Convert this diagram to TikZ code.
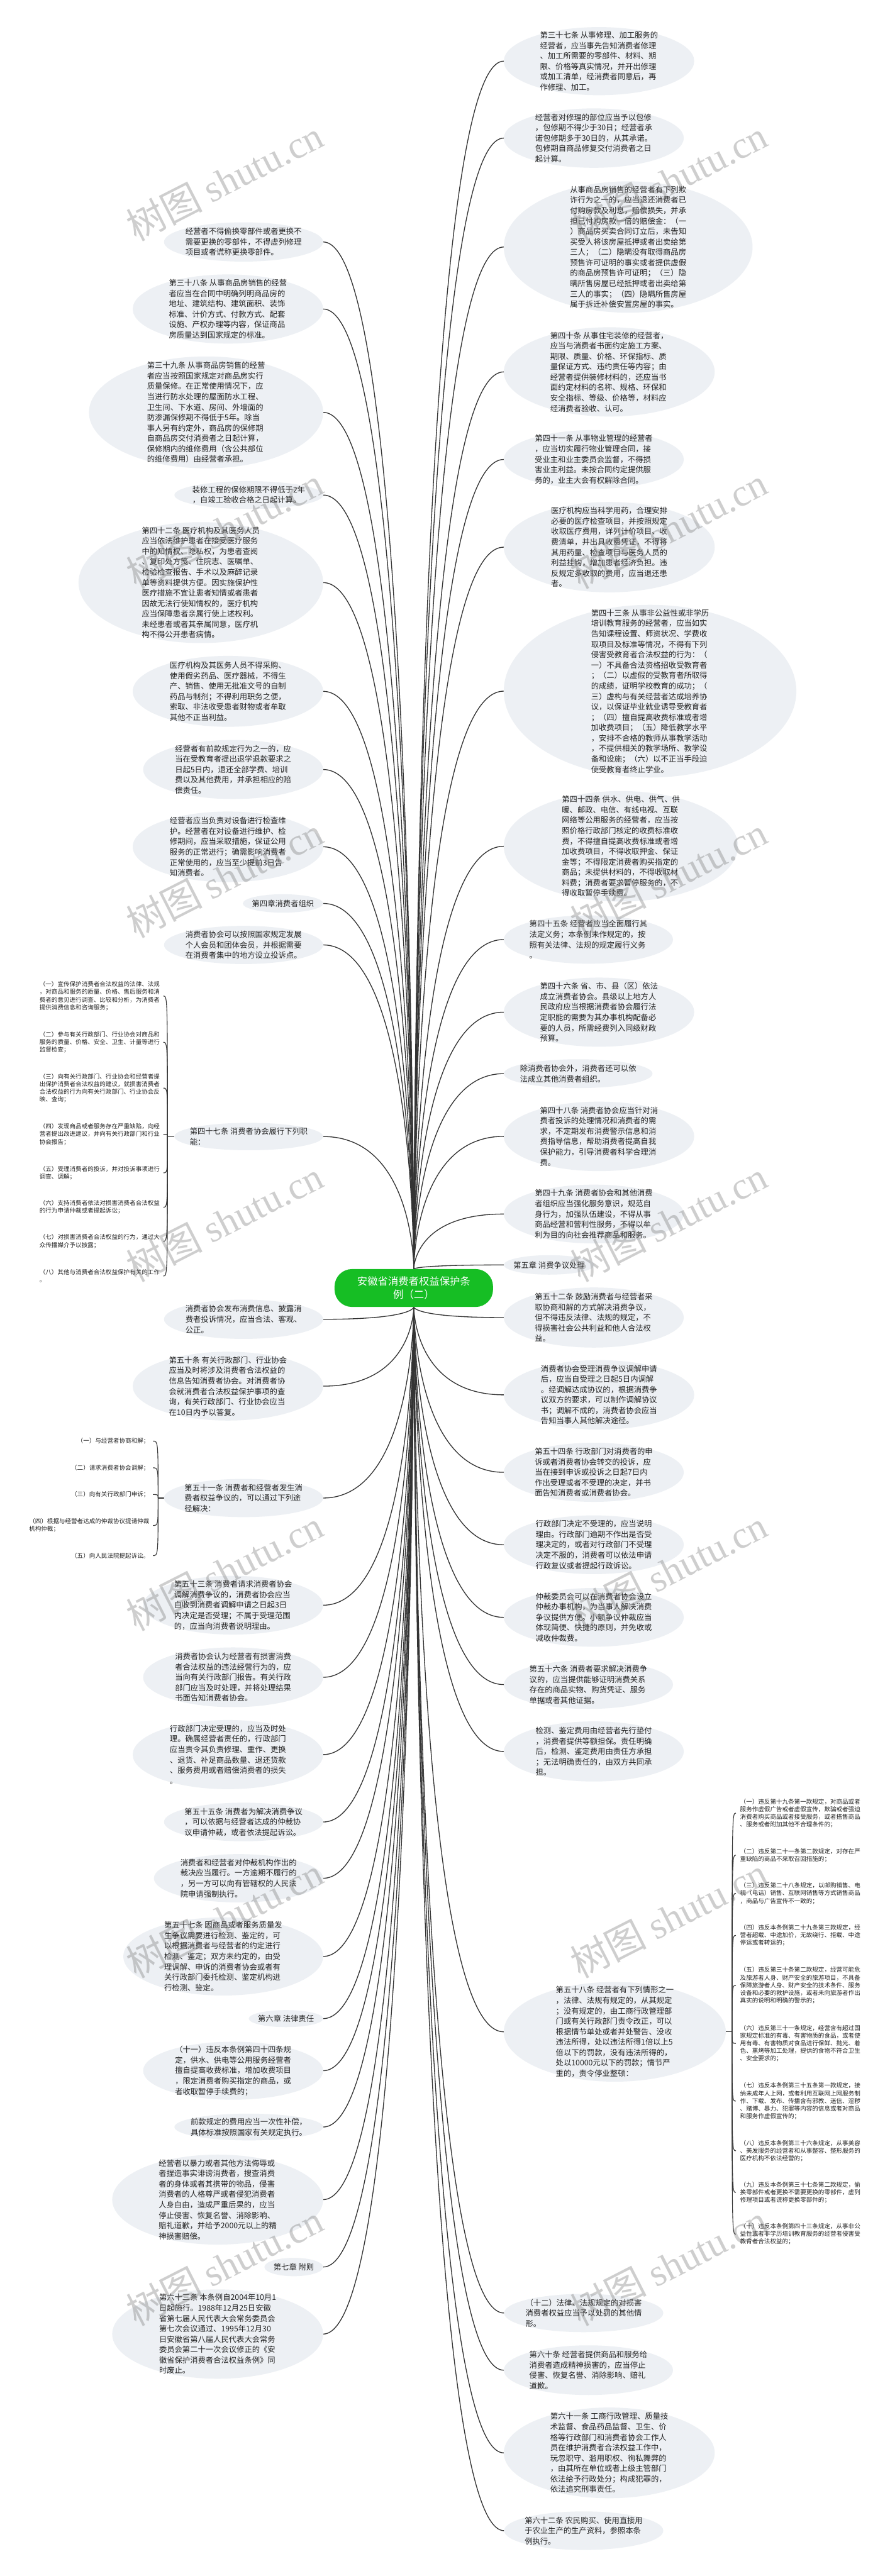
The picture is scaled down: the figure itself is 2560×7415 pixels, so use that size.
\documentclass[tikz,border=0pt]{standalone}
\usepackage{fontspec}
\setmainfont{Noto Sans CJK SC}
\newfontfamily\wmlatin{Liberation Serif}
\usetikzlibrary{shapes.geometric}
\pgfdeclarelayer{back}
\pgfdeclarelayer{edges}
\pgfdeclarelayer{top}
\pgfsetlayers{back,edges,main,top}
\definecolor{nodefill}{RGB}{237,240,244}
\definecolor{linec}{RGB}{51,51,51}
\definecolor{txtc}{RGB}{34,34,34}
\definecolor{rootg}{RGB}{22,190,36}
\tikzset{
  ell/.style={ellipse, fill=nodefill, draw=none, inner sep=0pt},
  txt/.style={align=left, text=txtc, inner sep=0pt, font=\fontsize{22.3}{30}\selectfont},
  small/.style={align=left, text=txtc, inner ysep=0pt, font=\fontsize{17.3}{22}\selectfont},
  conn/.style={draw=linec, line width=2.4pt},
  brace/.style={draw=linec, line width=2pt},
  wm/.style={text=black!55, opacity=0.35, font=\fontsize{110}{110}\selectfont, inner sep=0pt, rotate=27}
}
\newcommand\mmnode[6]{%
  \node[ell, minimum width=#4pt, minimum height=#5pt] (#1) at (#2,#3) {};
  \node[txt] (#1t) at (#1.center) {#6};
}
\newcommand\mmconn[3]{\draw[conn] (root.#1) .. controls (root.#1) and (root.#1 |- #2.#3) .. (#2.#3);}
\begin{document}
\begin{tikzpicture}[x=1pt,y=-1pt]
\useasboundingbox (0,0) rectangle (2560,7415);
\begin{pgfonlayer}{back}
\fill[white] (0,0) rectangle (2560,7415);
\end{pgfonlayer}

% root
\node[rounded corners=50pt, fill=rootg, text=white, minimum width=456pt, minimum height=109pt, align=center, inner sep=0pt, font=\fontsize{29.6}{38}\selectfont] (root) at (1191,3707.5) {安徽省消费者权益保护条\\例（二）};

% right column
\mmnode{R1}{1724}{176}{548}{196}{第三十七条 从事修理、加工服务的\\经营者，应当事先告知消费者修理\\、加工所需要的零部件、材料、期\\限、价格等真实情况，并开出修理\\或加工清单，经消费者同意后，再\\作修理、加工。}
\mmnode{R2}{1709}{397.5}{518}{171}{经营者对修理的部位应当予以包修\\，包修期不得少于30日；经营者承\\诺包修期多于30日的，从其承诺。\\包修期自商品修复交付消费者之日\\起计算。}
\mmnode{R3}{1808}{711}{716}{378}{从事商品房销售的经营者有下列欺\\诈行为之一的，应当退还消费者已\\付购房款及利息，赔偿损失，并承\\担已付购房款一倍的赔偿金：（一\\）商品房买卖合同订立后，未告知\\买受人将该房屋抵押或者出卖给第\\三人；（二）隐瞒没有取得商品房\\预售许可证明的事实或者提供虚假\\的商品房预售许可证明；（三）隐\\瞒所售房屋已经抵押或者出卖给第\\三人的事实；（四）隐瞒所售房屋\\属于拆迁补偿安置房屋的事实。}
\mmnode{R4}{1753.5}{1070.5}{607}{257}{第四十条 从事住宅装修的经营者，\\应当与消费者书面约定施工方案、\\期限、质量、价格、环保指标、质\\量保证方式、违约责任等内容；由\\经营者提供装修材料的，还应当书\\面约定材料的名称、规格、环保和\\安全指标、等级、价格等，材料应\\经消费者验收、认可。}
\mmnode{R5}{1709}{1322.5}{518}{169}{第四十一条 从事物业管理的经营者\\，应当切实履行物业管理合同，接\\受业主和业主委员会监督，不得损\\害业主利益。未按合同约定提供服\\务的，业主大会有权解除合同。}
\mmnode{R6}{1753.5}{1575}{607}{260}{医疗机构应当科学用药，合理安排\\必要的医疗检查项目，并按照规定\\收取医疗费用，详列计价项目、收\\费清单，并出具收费凭证，不得将\\其用药量、检查项目与医务人员的\\利益挂钩，增加患者经济负担。违\\反规定多收取的费用，应当退还患\\者。}
\mmnode{R7}{1871}{1989.5}{842}{497}{第四十三条 从事非公益性或非学历\\培训教育服务的经营者，应当如实\\告知课程设置、师资状况、学费收\\取项目及标准等情况，不得有下列\\侵害受教育者合法权益的行为：（\\一）不具备合法资格招收受教育者\\；（二）以虚假的受教育者所取得\\的成绩，证明学校教育的成功；（\\三）虚构与有关经营者达成培养协\\议，以保证毕业就业诱导受教育者\\；（四）擅自提高收费标准或者增\\加收费项目；（五）降低教学水平\\，安排不合格的教师从事教学活动\\，不提供相关的教学场所、教学设\\备和设施；（六）以不正当手段迫\\使受教育者终止学业。}
\mmnode{R8}{1787}{2436}{674}{318}{第四十四条 供水、供电、供气、供\\暖、邮政、电信、有线电视、互联\\网络等公用服务的经营者，应当按\\照价格行政部门核定的收费标准收\\费，不得擅自提高收费标准或者增\\加收费项目，不得收取押金、保证\\金等；不得限定消费者购买指定的\\商品；未提供材料的，不得收取材\\料费；消费者要求暂停服务的，不\\得收取暂停手续费。}
\mmnode{R9}{1693.5}{2704.5}{487}{139}{第四十五条 经营者应当全面履行其\\法定义务；本条例未作规定的，按\\照有关法律、法规的规定履行义务\\。}
\mmnode{R10}{1724}{2913.5}{548}{199}{第四十六条 省、市、县（区）依法\\成立消费者协会。县级以上地方人\\民政府应当根据消费者协会履行法\\定职能的需要为其办事机构配备必\\要的人员，所需经费列入同级财政\\预算。}
\mmnode{R11}{1664}{3090.5}{428}{83}{除消费者协会外，消费者还可以依\\法成立其他消费者组织。}
\mmnode{R12}{1724}{3271}{548}{200}{第四十八条 消费者协会应当针对消\\费者投诉的处理情况和消费者的需\\求，不定期发布消费警示信息和消\\费指导信息，帮助消费者提高自我\\保护能力，引导消费者科学合理消\\费。}
\mmnode{R13}{1709}{3494.5}{518}{169}{第四十九条 消费者协会和其他消费\\者组织应当强化服务意识，规范自\\身行为，加强队伍建设，不得从事\\商品经营和营利性服务，不得以牟\\利为目的向社会推荐商品和服务。}
\mmnode{R14}{1580.5}{3641}{261}{56}{第五章 消费争议处理}
\mmnode{R15}{1709}{3792.5}{518}{173}{第五十二条 鼓励消费者与经营者采\\取协商和解的方式解决消费争议，\\但不得违反法律、法规的规定，不\\得损害社会公共利益和他人合法权\\益。}
\mmnode{R16}{1724}{4015}{548}{200}{消费者协会受理消费争议调解申请\\后，应当自受理之日起5日内调解\\。经调解达成协议的，根据消费争\\议双方的要求，可以制作调解协议\\书；调解不成的，消费者协会应当\\告知当事人其他解决途径。}
\mmnode{R17}{1709}{4238}{518}{170}{第五十四条 行政部门对消费者的申\\诉或者消费者协会转交的投诉，应\\当在接到申诉或投诉之日起7日内\\作出受理或者不受理的决定，并书\\面告知消费者或消费者协会。}
\mmnode{R18}{1709}{4446.5}{518}{169}{行政部门决定不受理的，应当说明\\理由。行政部门逾期不作出是否受\\理决定的，或者对行政部门不受理\\决定不服的，消费者可以依法申请\\行政复议或者提起行政诉讼。}
\mmnode{R19}{1709}{4655.5}{518}{169}{仲裁委员会可以在消费者协会设立\\仲裁办事机构，为当事人解决消费\\争议提供方便。小额争议仲裁应当\\体现简便、快捷的原则，并免收或\\减收仲裁费。}
\mmnode{R20}{1693.5}{4849}{487}{140}{第五十六条 消费者要求解决消费争\\议的，应当提供能够证明消费关系\\存在的商品实物、购货凭证、服务\\单据或者其他证据。}
\mmnode{R21}{1709}{5041.5}{518}{173}{检测、鉴定费用由经营者先行垫付\\，消费者提供等额担保。责任明确\\后，检测、鉴定费用由责任方承担\\；无法明确责任的，由双方共同承\\担。}
\mmnode{R22}{1769.5}{5848.5}{639}{287}{第五十八条 经营者有下列情形之一\\，法律、法规有规定的，从其规定\\；没有规定的，由工商行政管理部\\门或有关行政部门责令改正，可以\\根据情节单处或者并处警告、没收\\违法所得，处以违法所得1倍以上5\\倍以下的罚款，没有违法所得的，\\处以10000元以下的罚款；情节严\\重的，责令停业整顿：}
\mmnode{R23}{1680}{6658}{458}{110}{（十二）法律、法规规定的对损害\\消费者权益应当予以处罚的其他情\\形。}
\mmnode{R24}{1693.5}{6822.5}{487}{143}{第六十条 经营者提供商品和服务给\\消费者造成精神损害的，应当停止\\侵害、恢复名誉、消除影响、赔礼\\道歉。}
\mmnode{R25}{1753.5}{7060.5}{607}{261}{第六十一条 工商行政管理、质量技\\术监督、食品药品监督、卫生、价\\格等行政部门和消费者协会工作人\\员在维护消费者合法权益工作中，\\玩忽职守、滥用职权、徇私舞弊的\\，由其所在单位或者上级主管部门\\依法给予行政处分；构成犯罪的，\\依法追究刑事责任。}
\mmnode{R26}{1680}{7284.5}{458}{111}{第六十二条 农民购买、使用直接用\\于农业生产的生产资料，参照本条\\例执行。}

% left column
\mmnode{L1}{701}{696.5}{458}{113}{经营者不得偷换零部件或者更换不\\需要更换的零部件，不得虚列修理\\项目或者谎称更换零部件。}
\mmnode{L2}{656}{889.5}{548}{199}{第三十八条 从事商品房销售的经营\\者应当在合同中明确列明商品房的\\地址、建筑结构、建筑面积、装饰\\标准、计价方式、付款方式、配套\\设施、产权办理等内容，保证商品\\房质量达到国家规定的标准。}
\mmnode{L3}{593}{1187}{674}{322}{第三十九条 从事商品房销售的经营\\者应当按照国家规定对商品房实行\\质量保修。在正常使用情况下，应\\当进行防水处理的屋面防水工程、\\卫生间、下水道、房间、外墙面的\\防渗漏保修期不得低于5年。除当\\事人另有约定外，商品房的保修期\\自商品房交付消费者之日起计算，\\保修期内的维修费用（含公共部位\\的维修费用）由经营者承担。}
\mmnode{L4}{716}{1425}{428}{80}{装修工程的保修期限不得低于2年\\，自竣工验收合格之日起计算。}
\mmnode{L5}{578}{1677}{704}{348}{第四十二条 医疗机构及其医务人员\\应当依法维护患者在接受医疗服务\\中的知情权、隐私权，为患者查阅\\、复印处方笺、住院志、医嘱单、\\检验检查报告、手术以及麻醉记录\\单等资料提供方便。因实施保护性\\医疗措施不宜让患者知情或者患者\\因故无法行使知情权的，医疗机构\\应当保障患者亲属行使上述权利。\\未经患者或者其亲属同意，医疗机\\构不得公开患者病情。}
\mmnode{L6}{656}{1990}{548}{204}{医疗机构及其医务人员不得采购、\\使用假劣药品、医疗器械，不得生\\产、销售、使用无批准文号的自制\\药品与制剂；不得利用职务之便，\\索取、非法收受患者财物或者牟取\\其他不正当利益。}
\mmnode{L7}{671}{2215}{518}{170}{经营者有前款规定行为之一的，应\\当在受教育者提出退学退款要求之\\日起5日内，退还全部学费、培训\\费以及其他费用，并承担相应的赔\\偿责任。}
\mmnode{L8}{656}{2437.5}{548}{203}{经营者应当负责对设备进行检查维\\护。经营者在对设备进行维护、检\\修期间，应当采取措施，保证公用\\服务的正常进行；确需影响消费者\\正常使用的，应当至少提前3日告\\知消费者。}
\mmnode{L9}{814.5}{2600.5}{231}{53}{第四章消费者组织}
\mmnode{L10}{701}{2720}{458}{110}{消费者协会可以按照国家规定发展\\个人会员和团体会员，并根据需要\\在消费者集中的地方设立投诉点。}
\mmnode{L11}{716}{3271.5}{428}{79}{第四十七条 消费者协会履行下列职\\能：}
\mmnode{L12}{701}{3797.5}{458}{113}{消费者协会发布消费信息、披露消\\费者投诉情况，应当合法、客观、\\公正。}
\mmnode{L13}{656}{3990}{548}{198}{第五十条 有关行政部门、行业协会\\应当及时将涉及消费者合法权益的\\信息告知消费者协会。对消费者协\\会就消费者合法权益保护事项的查\\询，有关行政部门、行业协会应当\\在10日内予以答复。}
\mmnode{L14}{701}{4312}{458}{110}{第五十一条 消费者和经营者发生消\\费者权益争议的，可以通过下列途\\径解决：}
\mmnode{L15}{671}{4620.5}{518}{169}{第五十三条 消费者请求消费者协会\\调解消费争议的，消费者协会应当\\自收到消费者调解申请之日起3日\\内决定是否受理；不属于受理范围\\的，应当向消费者说明理由。}
\mmnode{L16}{671}{4828}{518}{172}{消费者协会认为经营者有损害消费\\者合法权益的违法经营行为的，应\\当向有关行政部门报告。有关行政\\部门应当及时处理，并将处理结果\\书面告知消费者协会。}
\mmnode{L17}{656}{5050.5}{548}{199}{行政部门决定受理的，应当及时处\\理。确属经营者责任的，行政部门\\应当责令其负责修理、重作、更换\\、退货、补足商品数量、退还货款\\、服务费用或者赔偿消费者的损失\\。}
\mmnode{L18}{701}{5244.5}{458}{111}{第五十五条 消费者为解决消费争议\\，可以依据与经营者达成的仲裁协\\议申请仲裁，或者依法提起诉讼。}
\mmnode{L19}{686.5}{5406.5}{487}{139}{消费者和经营者对仲裁机构作出的\\裁决应当履行。一方逾期不履行的\\，另一方可以向有管辖权的人民法\\院申请强制执行。}
\mmnode{L20}{642.5}{5631.5}{575}{225}{第五十七条 因商品或者服务质量发\\生争议需要进行检测、鉴定的，可\\以根据消费者与经营者的约定进行\\检测、鉴定；双方未约定的，由受\\理调解、申诉的消费者协会或者有\\关行政部门委托检测、鉴定机构进\\行检测、鉴定。}
\mmnode{L21}{823}{5810.5}{214}{49}{第六章 法律责任}
\mmnode{L22}{671}{5960.5}{518}{167}{（十一）违反本条例第四十四条规\\定，供水、供电等公用服务经营者\\擅自提高收费标准，增加收费项目\\，限定消费者购买指定的商品，或\\者收取暂停手续费的；}
\mmnode{L23}{716}{6122.5}{428}{77}{前款规定的费用应当一次性补偿，\\具体标准按照国家有关规定执行。}
\mmnode{L24}{626.5}{6331.5}{607}{259}{经营者以暴力或者其他方法侮辱或\\者捏造事实诽谤消费者，搜查消费\\者的身体或者其携带的物品，侵害\\消费者的人格尊严或者侵犯消费者\\人身自由，造成严重后果的，应当\\停止侵害、恢复名誉、消除影响、\\赔礼道歉，并给予2000元以上的精\\神损害赔偿。}
\mmnode{L25}{845.5}{6525.5}{169}{53}{第七章 附则}
\mmnode{L26}{626.5}{6718.5}{607}{257}{第六十三条 本条例自2004年10月1\\日起施行。1988年12月25日安徽\\省第七届人民代表大会常务委员会\\第七次会议通过、1995年12月30\\日安徽省第八届人民代表大会常务\\委员会第二十一次会议修正的《安\\徽省保护消费者合法权益条例》同\\时废止。}

% children of 第四十七条
\node[small, anchor=east, inner xsep=10pt] (a1) at (470,2867) {（一）宣传保护消费者合法权益的法律、法规\\，对商品和服务的质量、价格、售后服务和消\\费者的意见进行调查、比较和分析，为消费者\\提供消费信息和咨询服务；};
\node[small, anchor=east, inner xsep=10pt] (a2) at (470,3000) {（二）参与有关行政部门、行业协会对商品和\\服务的质量、价格、安全、卫生、计量等进行\\监督检查；};
\node[small, anchor=east, inner xsep=10pt] (a3) at (470,3132) {（三）向有关行政部门、行业协会和经营者提\\出保护消费者合法权益的建议，就损害消费者\\合法权益的行为向有关行政部门、行业协会反\\映、查询；};
\node[small, anchor=east, inner xsep=10pt] (a4) at (470,3265) {（四）发现商品或者服务存在严重缺陷，向经\\营者提出改进建议，并向有关行政部门和行业\\协会报告；};
\node[small, anchor=east, inner xsep=10pt] (a5) at (470,3376) {（五）受理消费者的投诉，并对投诉事项进行\\调查、调解；};
\node[small, anchor=east, inner xsep=10pt] (a6) at (470,3475) {（六）支持消费者依法对损害消费者合法权益\\的行为申请仲裁或者提起诉讼；};
\node[small, anchor=east, inner xsep=10pt] (a7) at (470,3573) {（七）对损害消费者合法权益的行为，通过大\\众传播媒介予以披露；};
\node[small, anchor=east, inner xsep=10pt] (a8) at (470,3673) {（八）其他与消费者合法权益保护有关的工作\\。};

% children of 第五十一条
\node[small, anchor=east, inner xsep=10pt] (b1) at (440,4148) {（一）与经营者协商和解；};
\node[small, anchor=east, inner xsep=10pt] (b2) at (440,4225) {（二）请求消费者协会调解；};
\node[small, anchor=east, inner xsep=10pt] (b3) at (440,4302) {（三）向有关行政部门申诉；};
\node[small, anchor=east, inner xsep=10pt] (b4) at (440,4391) {（四）根据与经营者达成的仲裁协议提请仲裁\\机构仲裁；};
\node[small, anchor=east, inner xsep=10pt] (b5) at (440,4478) {（五）向人民法院提起诉讼。};

% children of 第五十八条
\node[small, anchor=west, inner xsep=12pt] (c1) at (2118,5219) {（一）违反第十九条第一款规定，对商品或者\\服务作虚假广告或者虚假宣传，欺骗或者强迫\\消费者购买商品或者接受服务，或者搭售商品\\、服务或者附加其他不合理条件的；};
\node[small, anchor=west, inner xsep=12pt] (c2) at (2118,5340) {（二）违反第二十一条第二款规定，对存在严\\重缺陷的商品不采取召回措施的；};
\node[small, anchor=west, inner xsep=12pt] (c3) at (2118,5450) {（三）违反第二十八条规定，以邮购销售、电\\视（电话）销售、互联网销售等方式销售商品\\，商品与广告宣传不一致的；};
\node[small, anchor=west, inner xsep=12pt] (c4) at (2118,5571) {（四）违反本条例第二十九条第三款规定，经\\营者超载、中途加价，无故绕行、拒载、中途\\停运或者转运的；};
\node[small, anchor=west, inner xsep=12pt] (c5) at (2118,5715) {（五）违反第三十条第二款规定，经营可能危\\及旅游者人身、财产安全的旅游项目，不具备\\保障旅游者人身、财产安全的技术条件、服务\\设备和必要的救护设施，或者未向旅游者作出\\真实的说明和明确的警示的；};
\node[small, anchor=west, inner xsep=12pt] (c6) at (2118,5882) {（六）违反第三十一条规定，经营含有超过国\\家规定标准的有毒、有害物质的食品，或者使\\用有毒、有害物质对食品进行保鲜、抛光、着\\色、熏烤等加工处理，提供的食物不符合卫生\\、安全要求的；};
\node[small, anchor=west, inner xsep=12pt] (c7) at (2118,6048) {（七）违反本条例第三十五条第一款规定，接\\纳未成年人上网，或者利用互联网上网服务制\\作、下载、发布、传播含有邪教、迷信、淫秽\\、赌博、暴力、犯罪等内容的信息或者对商品\\和服务作虚假宣传的；};
\node[small, anchor=west, inner xsep=12pt] (c8) at (2118,6191) {（八）违反本条例第三十六条规定，从事美容\\、美发服务的经营者和从事整容、整形服务的\\医疗机构不依法经营的；};
\node[small, anchor=west, inner xsep=12pt] (c9) at (2118,6311) {（九）违反本条例第三十七条第二款规定，偷\\换零部件或者更换不需要更换的零部件，虚列\\修理项目或者谎称更换零部件的；};
\node[small, anchor=west, inner xsep=12pt] (c10) at (2118,6431) {（十）违反本条例第四十三条规定，从事非公\\益性或者非学历培训教育服务的经营者侵害受\\教育者合法权益的；};

% connectors
\begin{pgfonlayer}{edges}
\foreach \n in {R1,R2,R3,R4,R5,R6,R7,R8,R9,R10,R11,R12,R13,R14} {\mmconn{north}{\n}{west}}
\foreach \n in {R15,R16,R17,R18,R19,R20,R21,R22,R23,R24,R25,R26} {\mmconn{south}{\n}{west}}
\foreach \n in {L1,L2,L3,L4,L5,L6,L7,L8,L9,L10,L11} {\mmconn{north}{\n}{east}}
\foreach \n in {L12,L13,L14,L15,L16,L17,L18,L19,L20,L21,L22,L23,L24,L25,L26} {\mmconn{south}{\n}{east}}
\coordinate (s47) at (482,3271.5);
\draw[brace] (L11.west) -- (s47);
\foreach \c in {a1,a2,a3,a4,a5,a6,a7,a8} {\draw[brace] (s47) .. controls (s47 |- \c.east) .. (\c.east);}
\coordinate (s51) at (455,4312);
\draw[brace] (L14.west) -- (s51);
\foreach \c in {b1,b2,b3,b4,b5} {\draw[brace] (s51) .. controls (s51 |- \c.east) .. (\c.east);}
\coordinate (s58) at (2107,5848.5);
\draw[brace] (R22.east) -- (s58);
\foreach \c in {c1,c2,c3,c4,c5,c6,c7,c8,c9,c10} {\draw[brace] (s58) .. controls (s58 |- \c.west) .. (\c.west);}
\end{pgfonlayer}

% watermarks
\begin{pgfonlayer}{top}
\foreach \y [count=\i] in {520,1520,2525,3515,4520,5520,6520} {
  \node[wm] (wl\i) at (646,\y) {树图 {\wmlatin shutu.cn}};
  \node[wm] (wr\i) at (1925,\y) {树图 {\wmlatin shutu.cn}};
}
\end{pgfonlayer}
\end{tikzpicture}
\end{document}
